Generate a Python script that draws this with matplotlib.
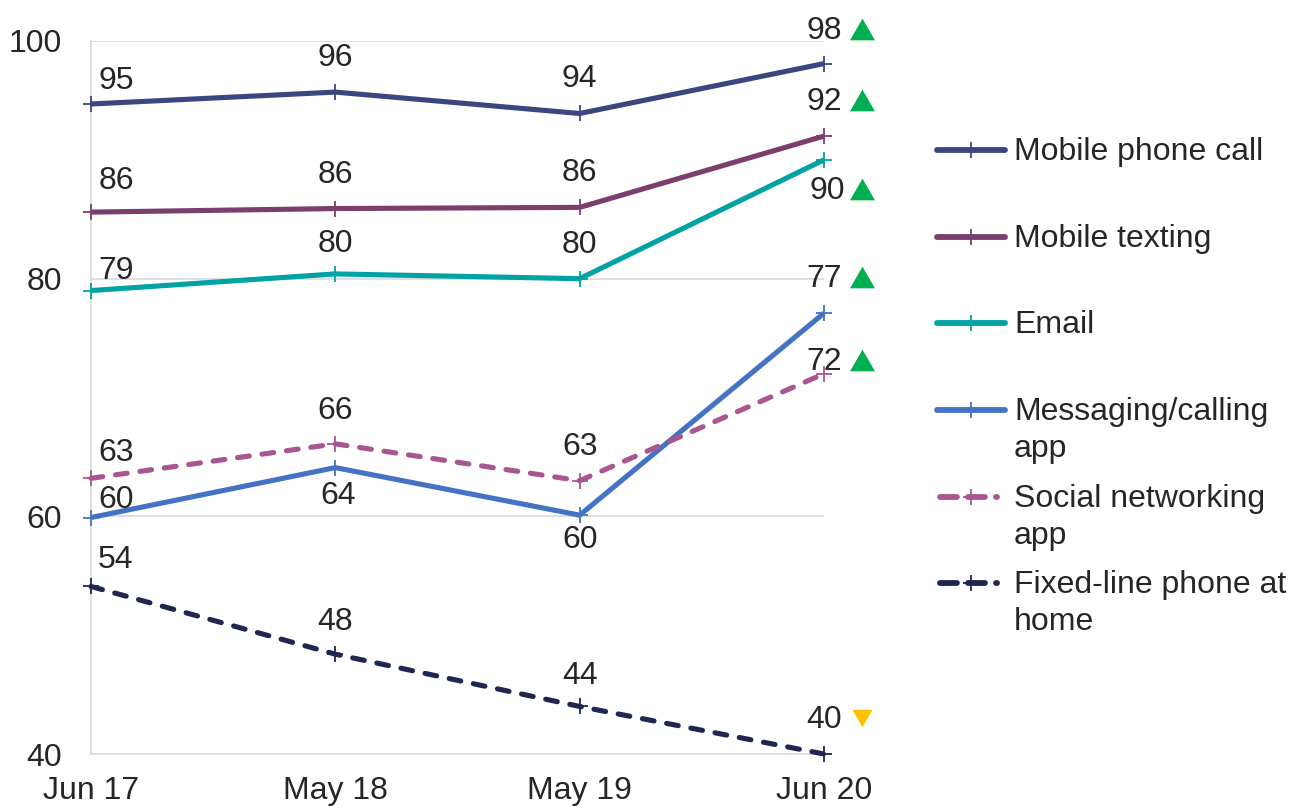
import matplotlib
matplotlib.use("Agg")
import matplotlib.pyplot as plt
from matplotlib.lines import Line2D
from matplotlib.transforms import offset_copy, ScaledTranslation

plt.rcParams['font.family'] = ['Liberation Sans', 'DejaVu Sans']

# ---- data ----
periods = ["Jun 17", "May 18", "May 19", "Jun 20"]
mobile_call = [94.7, 95.7, 93.9, 98.1]
mobile_text = [85.6, 85.9, 86.0, 92.0]
email = [79.0, 80.4, 80.0, 90.0]
messaging_app = [59.9, 64.1, 60.1, 77.1]
social_app = [63.2, 66.1, 63.0, 72.0]
fixed_line = [54.1, 48.4, 44.0, 40.0]
series_names = ["Mobile phone call", "Mobile texting", "Email",
                "Messaging/calling\napp", "Social networking\napp",
                "Fixed-line phone at\nhome"]
series_values = [mobile_call, mobile_text, email, messaging_app, social_app, fixed_line]
trend = ["up", "up", "up", "up", "up", "down"]
y_ticks = [40, 60, 80, 100]

# ---- styles ----
colors = ["#3B4680", "#7B3F6E", "#00A2A3", "#4472C4", "#A9558F", "#1F2650"]
dashed = [False, False, False, False, True, True]
# label offsets in pixels (dx, dy up)
label_offsets = [
    [(25, 26), (0, 37), (0, 37), (0, 36)],
    [(25, 34), (0, 37), (0, 37), (0, 37)],
    [(25, 23), (0, 33), (0, 37), (3, -28)],
    [(25, 21), (3, -25), (0, -22), (0, 37)],
    [(25, 28), (0, 36), (0, 37), (0, 15)],
    [(25, 29), (0, 35), (0, 33), (0, 37)],
]
text_color = "#262626"
fs = 23
DPI = 100
W, H = 1303, 809

fig = plt.figure(figsize=(W / DPI, H / DPI), dpi=DPI)
ax = fig.add_axes([91 / W, 1 - 754 / H, (824 - 91) / W, (754 - 41) / H])

x = list(range(len(periods)))
px2pt = 72 / DPI
for vals, col, dsh, offs in zip(series_values, colors, dashed, label_offsets):
    ln, = ax.plot(x, vals, color=col, lw=3.7, marker='+', ms=12, mew=1.3,
                  clip_on=False, zorder=3, solid_capstyle='butt')
    if dsh:
        ln.set_linestyle((0, (2.3, 2.5)))
        ln.set_dash_capstyle('round')
    for xi, v, (dx, dy) in zip(x, vals, offs):
        ax.annotate(f"{round(v)}", (xi, v), xytext=(dx * px2pt, (dy - 3) * px2pt),
                    textcoords='offset points', ha='center', va='center',
                    fontsize=fs, color=text_color, annotation_clip=False, zorder=4)

# trend triangles next to the final labels
up_marker = [(-1, -0.866), (1, -0.866), (0, 0.866)]
down_marker = [(-1, 0.866), (1, 0.866), (0, -0.866)]
for vals, offs, t in zip(series_values, label_offsets, trend):
    dx, dy = offs[-1]
    tr = offset_copy(ax.transData, fig=fig, x=38, y=dy - 1, units='dots')
    if t == "up":
        ax.plot([x[-1]], [vals[-1]], marker=up_marker, ms=18, color="#00B050",
                mew=0, transform=tr, clip_on=False, zorder=5)
    else:
        ax.plot([x[-1]], [vals[-1]], marker=down_marker, ms=14.5, color="#FFC000",
                mew=0, transform=tr, clip_on=False, zorder=5)

ax.set_xlim(0, 3)
ax.set_ylim(40, 100)
ax.set_yticks(y_ticks)
ax.set_xticks(x)
ax.set_xticklabels(periods)
ax.tick_params(axis='both', length=0, labelsize=fs, labelcolor=text_color)
ax.tick_params(axis='y', pad=21)
ax.tick_params(axis='x', pad=15.5)
ax.grid(axis='y', color="#D9D9D9", lw=1.2)
ax.set_axisbelow(True)
for s in ['top', 'right']:
    ax.spines[s].set_visible(False)
for s in ['left', 'bottom']:
    ax.spines[s].set_color("#D9D9D9")
    ax.spines[s].set_linewidth(1.2)

# ---- manual legend (figure pixel positions) ----
leg_y = [150, 237, 323, 410, 497, 583]
for name, col, dsh, yy in zip(series_names, colors, dashed, leg_y):
    fy = 1 - yy / H
    if dsh:
        seg = Line2D([940 / W, 997 / W], [fy, fy], transform=fig.transFigure,
                     color=col, lw=4.2, linestyle=(0, (2.9, 1.9)),
                     dash_capstyle='round')
    else:
        seg = Line2D([937 / W, 1005 / W], [fy, fy], transform=fig.transFigure,
                     color=col, lw=4.2, solid_capstyle='round')
    fig.add_artist(seg)
    fig.add_artist(Line2D([971 / W], [fy], transform=fig.transFigure, color=col,
                          marker='+', ms=12, mew=1.3, lw=0))
    fig.text(1014 / W, fy, name, ha='left', va='top', fontsize=fs,
             color=text_color, linespacing=1.32,
             transform=fig.transFigure + ScaledTranslation(0, 13 / DPI, fig.dpi_scale_trans))

fig.savefig("out.png", dpi=DPI)
